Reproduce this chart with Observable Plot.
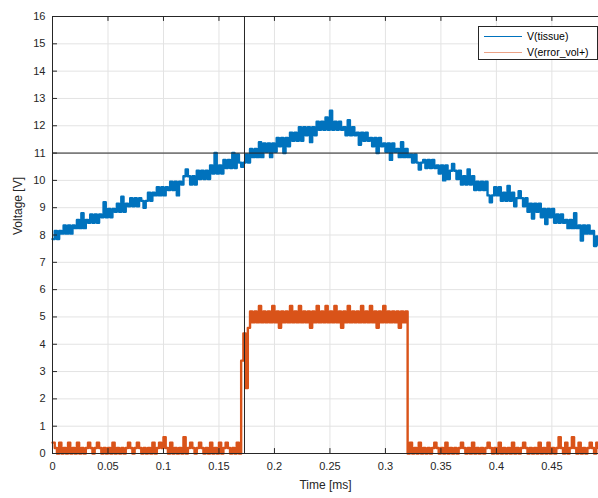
<!DOCTYPE html>
<html>
<head>
<meta charset="utf-8">
<script src="https://cdn.jsdelivr.net/npm/d3@7"></script>
<script src="https://cdn.jsdelivr.net/npm/@observablehq/plot@0.6"></script>
<style>
  html, body { margin: 0; padding: 0; background: #fff; }
  #wrap { position: relative; width: 598px; height: 498px; font-family: "Liberation Sans", Arial, Helvetica, sans-serif; }
  #legend { position: absolute; left: 478px; top: 26px; width: 118px; height: 32px; border: 1px solid #262626; background: #fff; font-size: 10.5px; color: #000; }
  #legend .row { position: absolute; left: 5px; height: 14px; display: flex; align-items: center; }
  #legend .sw { width: 38px; height: 0; border-top: 1.5px solid; margin-right: 5px; }
</style>
</head>
<body>
<div id="wrap"></div>
<script>
// sample interval of the exported trace [ms]
const dt = 0.002;

// V(tissue) [V]
const tissue = [
  7.85,8.15,7.85,8.15,8.05,8.35,8.05,8.35,8.05,8.35,
  8.25,8.55,8.25,8.8,8.25,8.55,8.45,8.75,8.45,8.75,
  8.45,8.75,8.65,9.2,8.65,8.95,8.65,8.95,8.85,9.15,
  8.85,9.4,8.85,9.15,9.05,9.35,9.05,9.35,9.05,9.35,
  9.25,9.0,9.25,9.55,9.25,9.55,9.45,9.75,9.45,9.75,
  9.45,9.75,9.65,9.95,9.65,9.95,9.45,9.95,9.85,10.15,
  10.4,10.15,9.85,10.15,9.85,10.35,10.05,10.35,10.05,10.35,
  10.05,10.55,10.25,11.0,10.25,10.55,10.25,10.75,10.45,10.75,
  10.45,11.0,10.45,10.95,10.65,10.5,10.65,10.95,10.65,11.15,
  10.85,11.15,10.85,11.4,10.85,11.35,11.05,11.35,10.85,11.35,
  11.05,11.55,11.25,11.55,11.0,11.55,11.25,11.75,11.45,11.75,
  11.45,11.95,11.45,11.95,11.65,11.95,11.4,11.95,11.65,12.15,
  11.85,12.15,11.85,12.3,11.85,12.55,11.85,12.15,11.85,12.15,
  11.85,11.95,11.65,12.2,11.65,11.95,11.65,11.75,11.3,11.75,
  11.45,11.75,11.45,11.55,11.25,11.55,11.0,11.55,11.25,11.35,
  11.05,11.35,10.75,11.35,11.05,11.15,10.85,11.4,10.85,11.15,
  10.85,10.95,10.65,10.95,10.65,10.4,10.65,10.75,10.45,10.75,
  10.45,10.75,10.45,10.55,10.25,10.55,10.0,10.55,10.05,10.35,
  10.6,10.35,10.05,10.35,9.85,10.15,9.85,10.4,9.85,10.15,
  9.65,9.95,9.65,9.95,9.65,9.95,9.45,9.2,9.45,9.75,
  9.45,9.75,9.25,9.55,9.25,9.8,9.25,9.55,9.05,9.35,
  9.6,9.35,9.05,9.35,8.85,9.15,8.6,9.15,8.85,9.15,
  8.65,8.95,8.4,8.95,8.65,8.95,8.45,8.75,8.45,8.75,
  8.45,8.55,8.25,8.55,8.25,8.8,8.25,8.35,7.8,8.35,
  8.05,8.35,8.05,8.15,7.6,7.95,7.65
];

// V(error_vol+) [V]
const errorVol = [
  0.4,0.2,0,0.4,0,0.2,0,0.4,0,0.2,
  0,0.4,0,0.2,0,0.2,0.4,0.2,0,0.2,
  0.4,0.2,0,0.2,0,0.2,0,0.4,0,0.2,
  0,0.2,0,0.2,0.4,0.2,0,0.2,0.4,0.2,
  0,0.2,0,0.2,0,0.4,0,0.2,0.4,0.2,
  0.6,0.2,0,0.4,0,0.2,0,0.2,0,0.6,
  0,0.2,0.4,0.2,0,0.2,0.4,0.2,0,0.2,
  0,0.4,0,0.2,0,0.4,0,0.2,0.4,0.2,
  0,0.2,0,0.4,0,
  3.4,4.4,2.4,4.6,
  5.2,4.8,5.2,4.8,5.4,4.8,5.2,4.8,5.2,4.8,5.4,
  4.8,5.2,4.6,5.2,4.8,5.2,4.8,5.4,4.8,5.2,
  4.8,5.4,4.8,5.2,4.8,5.2,4.6,5.2,4.8,5.4,
  4.8,5.2,4.8,5.4,4.8,5.2,4.8,5.4,4.8,5.2,
  4.6,5.2,4.8,5.4,4.8,5.2,4.8,5.2,4.8,5.4,
  4.8,5.2,4.8,5.4,4.8,5.2,4.6,5.2,4.8,5.4,
  4.8,5.2,4.8,5.2,4.8,5.2,4.6,5.2,4.8,5.2,
  0,0.4,0,0.2,0,0.4,0,0.2,0,0.2,
  0,0.2,0.4,0.2,0,0.2,0,0.4,0,0.2,
  0,0.2,0,0.2,0.4,0.2,0,0.2,0,0.4,
  0,0.2,0,0.2,0,0.2,0.4,0.2,0,0.2,
  0,0.4,0,0.2,0,0.2,0,0.4,0,0.2,
  0,0.2,0.4,0.2,0,0.2,0,0.2,0,0.4,
  0,0.2,0,0.4,0,0.2,0,0.2,0.6,0.2,
  0,0.4,0,0.2,0.6,0.2,0,0.4,0,0.2,
  0,0.2,0.4,0.2,0,0.4,0.2
];

const xTicks = [0, 0.05, 0.1, 0.15, 0.2, 0.25, 0.3, 0.35, 0.4, 0.45];
const xTickLabels = ["0", "0.05", "0.1", "0.15", "0.2", "0.25", "0.3", "0.35", "0.4", "0.45"];
const yTicks = [0,1,2,3,4,5,6,7,8,9,10,11,12,13,14,15,16];
const xDomain = [0, 0.492];
const yDomain = [0, 16];
const cursorX = 0.173;
const cursorY = 11;
const seriesNames = ["V(tissue)", "V(error_vol+)"];
const seriesColors = ["#0072BD", "#D95319"];

const tissueData = tissue.map((v, i) => ({t: i * dt, v}));
const errorData = errorVol.map((v, i) => ({t: i * dt, v}));

const ink = "#262626";
const gridColor = "#e3e3e3";
const xTickLen = 0.0045, yTickLen = 0.18;

const chart = Plot.plot({
  width: 598,
  height: 498,
  marginLeft: 52,
  marginRight: 0,
  marginTop: 16,
  marginBottom: 45,
  style: {fontFamily: "'Liberation Sans', Arial, Helvetica, sans-serif", fontSize: "11px", color: ink, background: "white", overflow: "visible"},
  x: {domain: xDomain, label: null},
  y: {domain: yDomain, label: null},
  marks: [
    Plot.ruleX(xTicks, {stroke: gridColor, strokeWidth: 1}),
    Plot.ruleY(yTicks, {stroke: gridColor, strokeWidth: 1}),
    Plot.line(tissueData, {x: "t", y: "v", stroke: seriesColors[0], strokeWidth: 2.4, curve: "step-after"}),
    Plot.line(errorData, {x: "t", y: "v", stroke: seriesColors[1], strokeWidth: 2.4, curve: "step-after"}),
    Plot.ruleX([cursorX], {stroke: ink, strokeWidth: 1}),
    Plot.ruleY([cursorY], {stroke: ink, strokeWidth: 1}),
    // axes box
    Plot.ruleX([xDomain[0]], {stroke: ink, strokeWidth: 1}),
    Plot.ruleY([yDomain[0], yDomain[1]], {stroke: ink, strokeWidth: 1}),
    // inward ticks
    Plot.ruleX(xTicks, {y1: yDomain[0], y2: yDomain[0] + yTickLen, stroke: ink}),
    Plot.ruleX(xTicks, {y1: yDomain[1], y2: yDomain[1] - yTickLen, stroke: ink}),
    Plot.ruleY(yTicks, {x1: xDomain[0], x2: xDomain[0] + xTickLen, stroke: ink}),
    Plot.axisX({ticks: xTicks, tickFormat: d => xTickLabels[xTicks.indexOf(d)], tickSize: 0, tickPadding: 9, label: null, fontSize: 11}),
    Plot.axisY({ticks: yTicks, tickSize: 0, tickPadding: 7, label: null, fontSize: 11}),
    Plot.text(["Voltage [V]"], {frameAnchor: "left", dx: -34, rotate: -90, fontSize: 12, fill: ink}),
    Plot.text(["Time [ms]"], {frameAnchor: "bottom", dy: 35, fontSize: 12, fill: ink})
  ]
});

const wrap = document.getElementById("wrap");
wrap.appendChild(chart);

const legend = document.createElement("div");
legend.id = "legend";
const legendSwatch = ["#0072BD", "#EBA286"];
seriesNames.forEach((name, i) => {
  const row = document.createElement("div");
  row.className = "row";
  row.style.top = (2 + i * 16) + "px";
  const sw = document.createElement("span");
  sw.className = "sw";
  sw.style.borderTopColor = legendSwatch[i];
  const label = document.createElement("span");
  label.textContent = name;
  row.appendChild(sw);
  row.appendChild(label);
  legend.appendChild(row);
});
wrap.appendChild(legend);
</script>
</body>
</html>
